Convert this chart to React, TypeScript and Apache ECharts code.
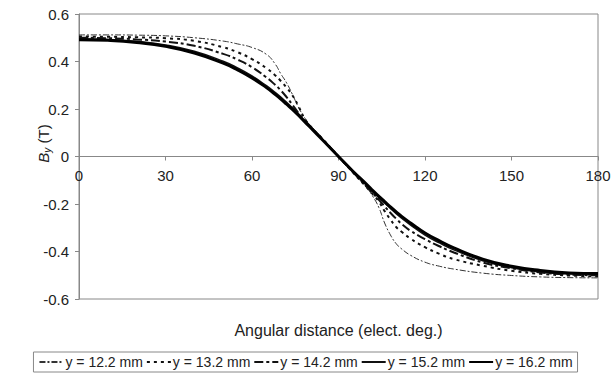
import React, { useEffect, useRef } from "react";
import * as echarts from "echarts";

const angles = [0, 10, 20, 30, 40, 50, 55, 60, 65, 68, 70, 72, 74, 76, 78, 80, 85, 90, 95, 100, 102, 104, 106, 108, 110, 112, 115, 120, 125, 130, 140, 150, 160, 170, 180];

const y122 = [0.512, 0.512, 0.511, 0.508, 0.5, 0.486, 0.474, 0.459, 0.43, 0.39, 0.348, 0.31, 0.262, 0.21, 0.168, 0.134, 0.068, 0, -0.068, -0.135, -0.17, -0.215, -0.28, -0.33, -0.367, -0.39, -0.416, -0.445, -0.462, -0.474, -0.491, -0.501, -0.507, -0.51, -0.511];
const y132 = [0.505, 0.504, 0.502, 0.498, 0.487, 0.46, 0.439, 0.41, 0.372, 0.342, 0.318, 0.29, 0.258, 0.215, 0.165, 0.132, 0.067, 0, -0.067, -0.133, -0.16, -0.19, -0.23, -0.265, -0.297, -0.318, -0.346, -0.382, -0.41, -0.432, -0.46, -0.481, -0.494, -0.501, -0.505];
const y142 = [0.5, 0.498, 0.493, 0.484, 0.466, 0.432, 0.408, 0.376, 0.333, 0.302, 0.278, 0.25, 0.218, 0.185, 0.157, 0.13, 0.066, 0, -0.066, -0.13, -0.156, -0.182, -0.21, -0.237, -0.262, -0.285, -0.313, -0.348, -0.378, -0.404, -0.446, -0.471, -0.488, -0.497, -0.5];
const y152 = [0.496, 0.493, 0.485, 0.47, 0.443, 0.401, 0.373, 0.339, 0.298, 0.27, 0.25, 0.228, 0.205, 0.181, 0.155, 0.129, 0.065, 0, -0.064, -0.124, -0.149, -0.173, -0.196, -0.219, -0.241, -0.261, -0.289, -0.331, -0.364, -0.393, -0.439, -0.468, -0.486, -0.495, -0.497];
const y162 = [0.492, 0.489, 0.48, 0.464, 0.436, 0.393, 0.365, 0.331, 0.29, 0.262, 0.242, 0.22, 0.198, 0.175, 0.15, 0.125, 0.063, 0, -0.062, -0.12, -0.145, -0.168, -0.19, -0.212, -0.233, -0.253, -0.28, -0.322, -0.355, -0.385, -0.432, -0.462, -0.48, -0.49, -0.493];

const seriesNames = ["y = 12.2 mm", "y = 13.2 mm", "y = 14.2 mm", "y = 15.2 mm", "y = 16.2 mm"];
const seriesValues = [y122, y132, y142, y152, y162];

const FONT = "'Liberation Sans', Arial, sans-serif";

export default function App() {
  const ref = useRef<HTMLDivElement>(null);
  useEffect(() => {
    if (!ref.current) return;
    const chart = echarts.init(ref.current, null, { renderer: "svg" });
    const styles = [
      { width: 1, type: [6, 2, 2, 2], color: "#333" },
      { width: 2, type: [3, 4], color: "#111" },
      { width: 2, type: [9, 3, 3, 3], color: "#111" },
      { width: 1.5, type: "solid", color: "#111" },
      { width: 3, type: "solid", color: "#000" },
    ];
    const gridTop = 14;
    const gridBottom = 74;
    const plotH = 373 - gridTop - gridBottom;
    chart.setOption({
      animation: false,
      textStyle: { fontFamily: FONT },
      grid: {
        left: 79,
        right: 13,
        top: gridTop,
        bottom: gridBottom,
        show: true,
        borderColor: "#888",
        borderWidth: 1,
        containLabel: false,
        outerBoundsMode: "none",
      },
      legend: {
        left: "center",
        top: 352,
        data: seriesNames,
        itemWidth: 24,
        itemHeight: 12,
        itemGap: 3,
        padding: [3, 5],
        borderColor: "#888",
        borderWidth: 1,
        itemStyle: { opacity: 0 },
        textStyle: { fontSize: 14, color: "#222", fontFamily: FONT, padding: [0, 0, 0, -3] },
      },
      xAxis: {
        type: "value",
        min: 0,
        max: 180,
        interval: 30,
        offset: -plotH / 2,
        name: "Angular distance (elect. deg.)",
        nameLocation: "middle",
        nameGap: 166,
        nameMoveOverlap: false,
        nameTextStyle: { fontSize: 16, color: "#222", fontFamily: FONT },
        axisLine: { onZero: false, lineStyle: { color: "#888", width: 1 } },
        axisTick: { show: true, length: 4, lineStyle: { color: "#888" } },
        axisLabel: { fontSize: 15, color: "#222", margin: 11, fontFamily: FONT },
        splitLine: { show: false },
      },
      yAxis: {
        type: "value",
        min: -0.6,
        max: 0.6,
        interval: 0.2,
        name: "{b|B}{s|y}{t| (T)}",
        nameLocation: "middle",
        nameGap: 27,
        nameMoveOverlap: false,
        nameRotate: 90,
        nameTextStyle: {
          fontFamily: FONT,
          color: "#222",
          padding: [0, 0, 0, 26],
          rich: {
            b: { fontSize: 15, fontStyle: "italic", color: "#222", fontFamily: FONT },
            s: { fontSize: 10, fontStyle: "italic", color: "#222", fontFamily: FONT, padding: [7, 0, 0, 0] },
            t: { fontSize: 15, color: "#222", fontFamily: FONT },
          },
        },
        axisLine: { show: true, lineStyle: { color: "#888", width: 1 } },
        axisTick: { show: true, length: 4, lineStyle: { color: "#888" } },
        axisLabel: { fontSize: 15, color: "#222", margin: 10, fontFamily: FONT },
        splitLine: { show: false },
      },
      series: seriesNames.map((name, i) => ({
        name,
        type: "line",
        data: angles.map((a, j) => [a, seriesValues[i][j]]),
        smooth: 0.5,
        showSymbol: false,
        symbol: "none",
        lineStyle: styles[i],
        itemStyle: { color: styles[i].color },
      })),
    });
    return () => chart.dispose();
  }, []);
  return <div ref={ref} style={{ width: 611, height: 373, position: "absolute", left: 0, top: 0 }} />;
}
